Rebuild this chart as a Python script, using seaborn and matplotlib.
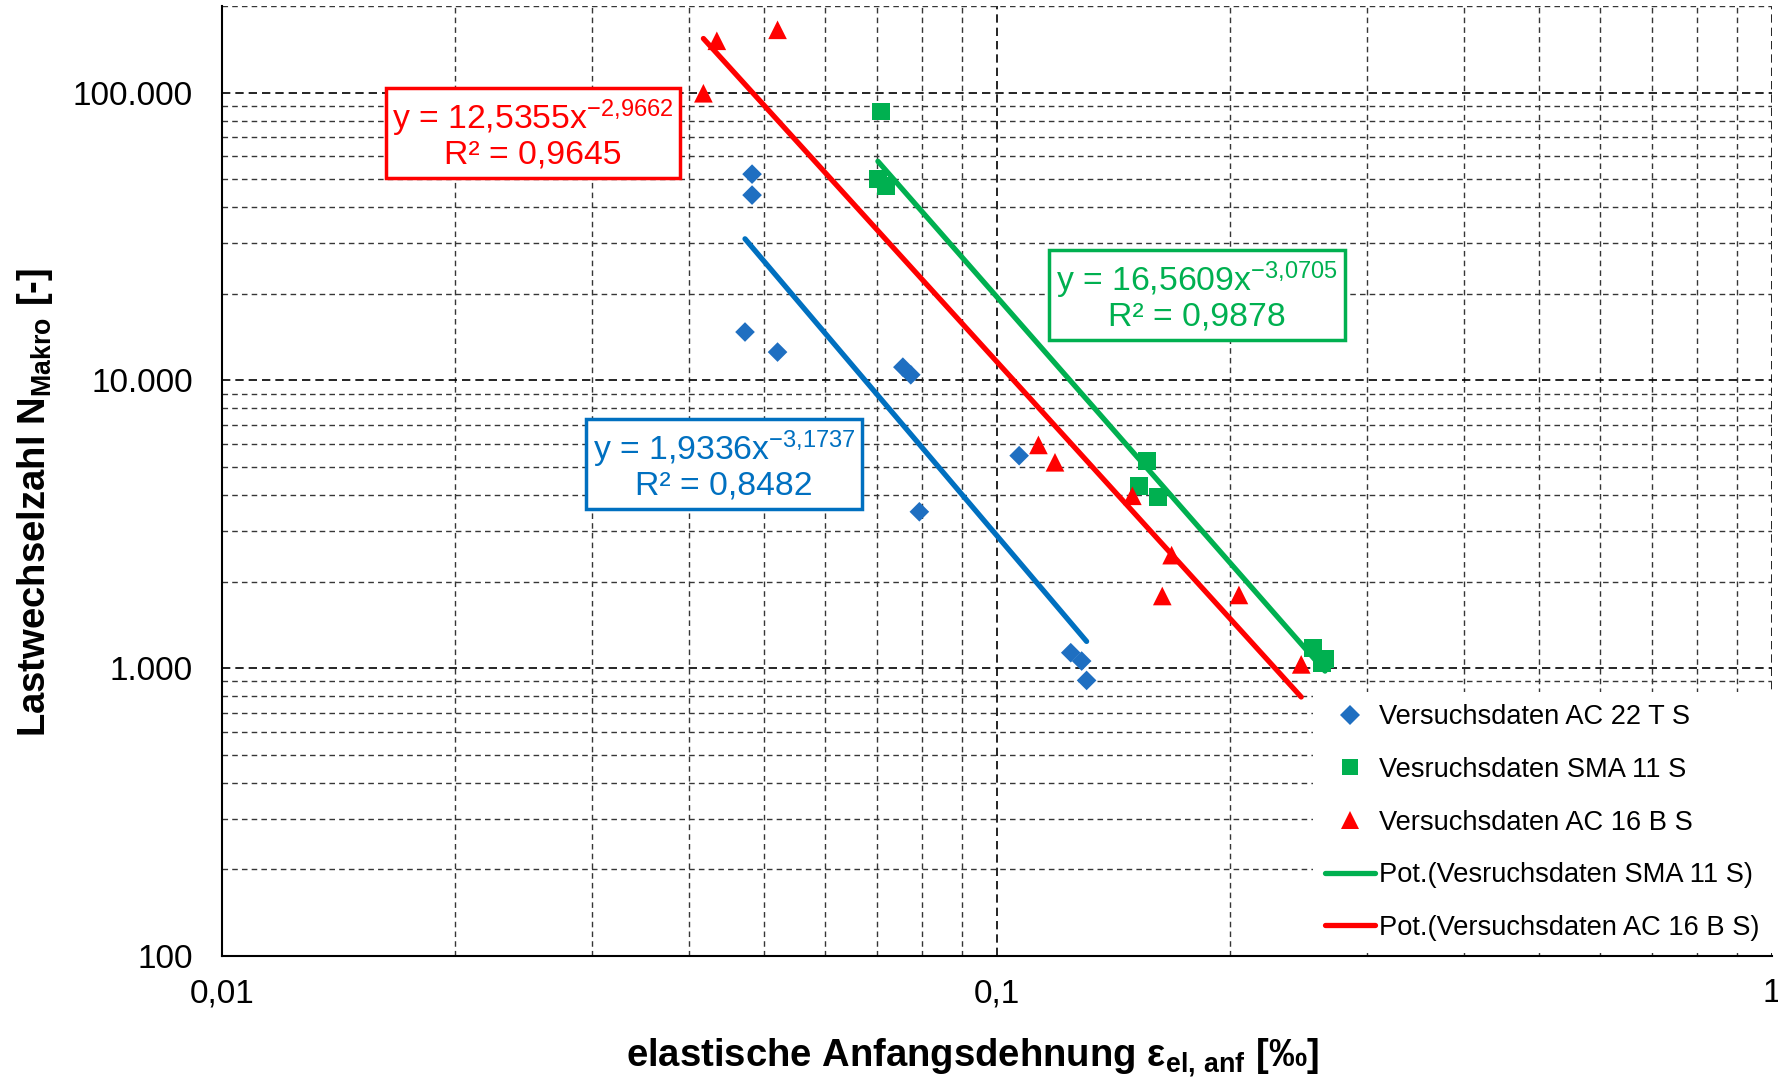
import numpy as np
import pandas as pd
import matplotlib
matplotlib.use("Agg")
import matplotlib.pyplot as plt
from matplotlib.lines import Line2D
from matplotlib.ticker import FixedLocator, FixedFormatter, LogLocator, NullFormatter
import seaborn as sns

# Initial elastic strain [‰] and load cycles until macro crack, per test series
ac22_eps = [0.0483, 0.0483, 0.0473, 0.0521, 0.0756, 0.0774, 0.0794, 0.1068, 0.1245, 0.1286, 0.1305]
ac22_n = [52100, 44050, 14730, 12545, 11120, 10460, 3496, 5477, 1132, 1059, 907]
sma11_eps = [0.0709, 0.0702, 0.0719, 0.1560, 0.1526, 0.1615, 0.2559, 0.2650, 0.2624]
sma11_n = [85950, 49950, 47330, 5236, 4285, 3924, 1179, 1079, 1045]
ac16_eps = [0.0418, 0.0435, 0.0521, 0.1131, 0.1188, 0.1495, 0.1680, 0.1634, 0.2052, 0.2469]
ac16_n = [99500, 151400, 165300, 5968, 5194, 3973, 2471, 1782, 1797, 1031]

series_names = ["Versuchsdaten AC 22 T S", "Vesruchsdaten SMA 11 S", "Versuchsdaten AC 16 B S"]
trend_names = ["Pot.(Versuchsdaten AC 22 T S)", "Pot.(Vesruchsdaten SMA 11 S)", "Pot.(Versuchsdaten AC 16 B S)"]

# Power-law trend lines N = a * eps^b
fit_a = [1.9336, 16.5609, 12.5355]
fit_b = [-3.1737, -3.0705, -2.9662]
fit_r2 = [0.8482, 0.9878, 0.9645]

y_ticks = [100, 1000, 10000, 100000]
y_tick_labels = ["100", "1.000", "10.000", "100.000"]
x_ticks = [0.01, 0.1, 1]
x_tick_labels = ["0,01", "0,1", "1"]

marker_colors = ["#1F6FC1", "#00B050", "#FF0000"]
line_colors = ["#0070C0", "#00B050", "#FF0000"]
markers = ["D", "s", "^"]
marker_areas = [100, 165, 180]

sns.set_theme(style="white")
plt.rcParams["font.family"] = ["Liberation Sans", "DejaVu Sans"]
plt.rcParams["mathtext.default"] = "regular"

W, H = 1778, 1085
fig = plt.figure(figsize=(W / 100, H / 100), dpi=100)
ax = fig.add_axes([222 / W, 1 - 956 / H, 1550 / W, 950 / H])

eps_sets = [ac22_eps, sma11_eps, ac16_eps]
n_sets = [ac22_n, sma11_n, ac16_n]

pts = pd.concat(
    [pd.DataFrame({"eps": e, "N": n, "mix": name})
     for e, n, name in zip(eps_sets, n_sets, series_names)],
    ignore_index=True,
)

ax.set_xscale("log")
ax.set_yscale("log")

# trend lines over the measured strain range of each series
for e, a, b, col in zip(eps_sets, fit_a, fit_b, line_colors):
    xs = np.geomspace(min(e), max(e), 60)
    sns.lineplot(x=xs, y=a * xs ** b, color=col, linewidth=3.8, ax=ax,
                 solid_capstyle="round", zorder=3)

sns.scatterplot(
    data=pts, x="eps", y="N", hue="mix", style="mix", size="mix",
    palette=dict(zip(series_names, marker_colors)),
    markers=dict(zip(series_names, markers)),
    sizes=dict(zip(series_names, marker_areas)),
    linewidth=0, legend=False, ax=ax, zorder=4,
)

ax.set_xlim(0.01, 1)
ax.set_ylim(100, 200000)

ax.xaxis.set_major_locator(FixedLocator(x_ticks))
ax.xaxis.set_major_formatter(FixedFormatter(x_tick_labels))
ax.xaxis.set_minor_locator(LogLocator(base=10, subs=np.arange(2, 10)))
ax.xaxis.set_minor_formatter(NullFormatter())
ax.yaxis.set_major_locator(FixedLocator(y_ticks))
ax.yaxis.set_major_formatter(FixedFormatter(y_tick_labels))
ax.yaxis.set_minor_locator(LogLocator(base=10, subs=np.arange(2, 10)))
ax.yaxis.set_minor_formatter(NullFormatter())

ax.set_axisbelow(True)
ax.grid(which="major", color="black", linestyle=(0, (5, 3)), linewidth=1.2)
ax.grid(which="minor", color="#363636", linestyle=(0, (4, 3)), linewidth=1.0)

ax.tick_params(which="major", direction="out", length=6, width=1, color="#8c8c8c",
               labelsize=24, labelcolor="black")
ax.tick_params(axis="y", which="major", pad=15)
ax.tick_params(axis="x", which="major", pad=10)
ax.tick_params(which="minor", direction="in", length=4, width=1, color="#404040")

for side in ["top", "right"]:
    ax.spines[side].set_visible(False)
for side in ["left", "bottom"]:
    ax.spines[side].set_color("black")
    ax.spines[side].set_linewidth(1.5)

ax.set_xlabel(r"elastische Anfangsdehnung ε$_{el{,}\ anf}$ [‰]", fontsize=27.5,
              fontweight="bold", color="black")
ax.set_ylabel(r"Lastwechselzahl N$_{Makro}$ [-]", fontsize=27.5,
              fontweight="bold", color="black")
ax.xaxis.set_label_coords((973 - 222) / 1550, (956 - 1058) / 950)
ax.xaxis.label.set_va("center")
ax.yaxis.set_label_coords((35 - 222) / 1550, (956 - 502) / 950)
ax.yaxis.label.set_va("center")

# regression equations in framed boxes
box_centers = [(724, 465), (1197, 296), (533, 134)]
for a, b, r2, col, (cx, cy) in zip(fit_a, fit_b, fit_r2, line_colors, box_centers):
    a_s = f"{a:.4f}".replace(".", ",")
    b_s = f"{b:.4f}".replace(".", "{,}")
    r_s = f"{r2:.4f}".replace(".", ",")
    txt = f"y = {a_s}x$^{{{b_s}}}$\nR² = {r_s}"
    fig.text(cx / W, 1 - cy / H, txt, color=col, fontsize=24.3, ha="center",
             va="center", multialignment="center", linespacing=1.05,
             bbox=dict(boxstyle="square,pad=0.2", facecolor="white",
                       edgecolor=col, linewidth=2.5), zorder=6)

handles = [
    Line2D([], [], linestyle="none", marker=m, color=c, markersize=ms, markeredgewidth=0)
    for m, c, ms in zip(markers, marker_colors, [10, 12, 13])
]
handles += [
    Line2D([], [], color=line_colors[1], linewidth=3.8, solid_capstyle="round"),
    Line2D([], [], color=line_colors[2], linewidth=3.8, solid_capstyle="round"),
]
labels = series_names + [trend_names[1], trend_names[2]]
leg = ax.legend(handles, labels, loc="lower right", bbox_to_anchor=(1.0, 0.003),
                bbox_transform=ax.transAxes, frameon=True, facecolor="white",
                edgecolor="none", framealpha=1, fancybox=False, fontsize=19.6,
                handlelength=1.85, handletextpad=0.15, labelspacing=0.98,
                borderpad=0.45, borderaxespad=0)
for t in leg.get_texts():
    t.set_color("black")

fig.savefig("out.png", dpi=100, facecolor="white")
